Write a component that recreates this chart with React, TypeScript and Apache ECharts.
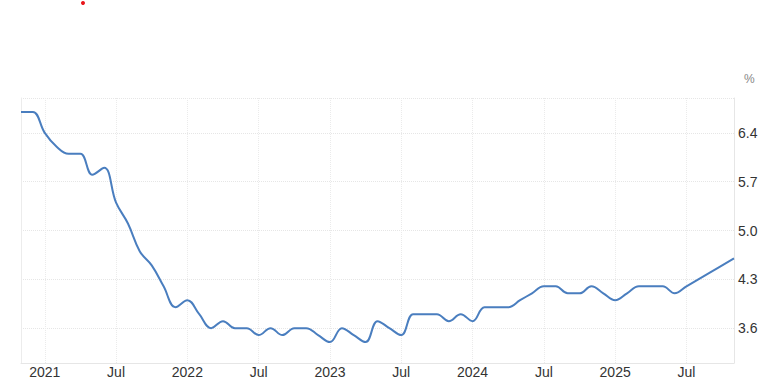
import React, { useEffect, useRef } from "react";
import * as echarts from "echarts";

const months: string[] = [
  "2020-11", "2020-12",
  "2021-01", "2021-02", "2021-03", "2021-04", "2021-05", "2021-06", "2021-07", "2021-08", "2021-09", "2021-10", "2021-11", "2021-12",
  "2022-01", "2022-02", "2022-03", "2022-04", "2022-05", "2022-06", "2022-07", "2022-08", "2022-09", "2022-10", "2022-11", "2022-12",
  "2023-01", "2023-02", "2023-03", "2023-04", "2023-05", "2023-06", "2023-07", "2023-08", "2023-09", "2023-10", "2023-11", "2023-12",
  "2024-01", "2024-02", "2024-03", "2024-04", "2024-05", "2024-06", "2024-07", "2024-08", "2024-09", "2024-10", "2024-11", "2024-12",
  "2025-01", "2025-02", "2025-03", "2025-04", "2025-05", "2025-06", "2025-07", "2025-08", "2025-09", "2025-10", "2025-11",
];

const unemploymentRate: (number | null)[] = [
  6.7, 6.7,
  6.4, 6.2, 6.1, 6.1, 5.8, 5.9, 5.4, 5.1, 4.7, 4.5, 4.2, 3.9,
  4.0, 3.8, 3.6, 3.7, 3.6, 3.6, 3.5, 3.6, 3.5, 3.6, 3.6, 3.5,
  3.4, 3.6, 3.5, 3.4, 3.7, 3.6, 3.5, 3.8, 3.8, 3.8, 3.7, 3.8,
  3.7, 3.9, 3.9, 3.9, 4.0, 4.1, 4.2, 4.2, 4.1, 4.1, 4.2, 4.1,
  4.0, 4.1, 4.2, 4.2, 4.2, 4.1, 4.2, 4.3, 4.4, null, 4.6,
];

const yTickLabels: number[] = [3.6, 4.3, 5.0, 5.7, 6.4];
const yGridValues: number[] = [3.6, 4.3, 5.0, 5.7, 6.4, 6.9];
const monthNames: Record<string, string> = { "01": "", "07": "Jul" };

const FONT = "'Liberation Sans', Arial, sans-serif";

const isMarked = (value: string) => {
  const m = value.split("-")[1];
  return m === "01" || m === "07";
};

export default function App() {
  const ref = useRef<HTMLDivElement>(null);

  useEffect(() => {
    document.body.style.margin = "0";
    if (!ref.current) return;
    const chart = echarts.init(ref.current, undefined, { renderer: "svg" });
    chart.setOption({
      animation: false,
      backgroundColor: "#ffffff",
      grid: { left: 21, right: 38, top: 98, bottom: 28, containLabel: false },
      xAxis: {
        type: "category",
        data: months,
        boundaryGap: false,
        axisLine: { show: true, lineStyle: { color: "#e6e6e6", width: 1 } },
        axisTick: { show: false },
        axisLabel: {
          interval: (_i: number, v: string) => isMarked(v),
          formatter: (v: string) => {
            const [y, m] = v.split("-");
            return m === "01" ? y : monthNames[m] || "";
          },
          color: "#333",
          fontSize: 14,
          fontFamily: FONT,
          margin: 2,
        },
        splitLine: {
          show: true,
          interval: (_i: number, v: string) => isMarked(v),
          lineStyle: { color: "#ebebeb", type: "dotted", width: 1 },
        },
      },
      yAxis: [
        {
          type: "value",
          position: "right",
          min: 3.1,
          max: 6.9,
          axisLine: { show: true, lineStyle: { color: "#e6e6e6", width: 1 } },
          axisTick: { show: false, customValues: yGridValues },
          axisLabel: {
            customValues: yTickLabels,
            formatter: (v: number) => v.toFixed(1),
            color: "#333",
            fontSize: 14,
            fontFamily: FONT,
            margin: 4,
            padding: [0, 0, 5, 0],
          },
          splitLine: { show: true, lineStyle: { color: "#e6e6e6", type: "dotted", width: 1 } },
        },
        {
          type: "value",
          position: "left",
          min: 3.1,
          max: 6.9,
          axisLine: { show: true, lineStyle: { color: "#ececec", width: 1 } },
          axisTick: { show: false },
          axisLabel: { show: false },
          splitLine: { show: false },
        },
      ],
      graphic: [
        {
          type: "text",
          left: 744,
          top: 73,
          style: { text: "%", fill: "#888", font: `12px ${FONT}` },
        },
        {
          type: "circle",
          shape: { cx: 83, cy: 3, r: 2 },
          style: { fill: "#e8161b" },
        },
      ],
      series: [
        {
          type: "line",
          data: unemploymentRate,
          yAxisIndex: 0,
          smooth: 0.4,
          connectNulls: true,
          showSymbol: false,
          symbol: "none",
          lineStyle: { color: "#4a7ebf", width: 2 },
        },
      ],
    });
    return () => chart.dispose();
  }, []);

  return <div ref={ref} style={{ width: 772, height: 391 }} />;
}
